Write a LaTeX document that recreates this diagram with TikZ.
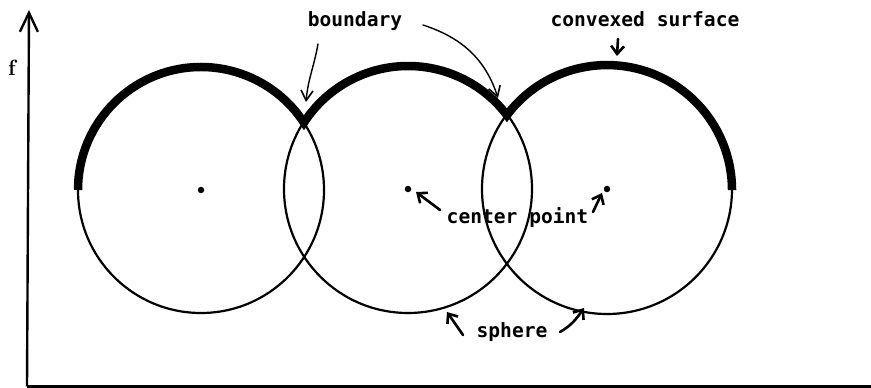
\documentclass[tikz,border=0pt]{standalone}
\usepackage{fontspec}
\setmonofont{DejaVu Sans Mono}
\usetikzlibrary{arrows.meta}
\begin{document}
\begin{tikzpicture}[x=1pt,y=1pt,
  thincirc/.style={line width=2.2pt},
  thickarc/.style={line width=8.5pt,line cap=butt,line join=miter},
  lbl/.style={font=\ttfamily\bfseries\fontsize{19.6}{22}\selectfont,inner sep=0pt,anchor=base},
  ann/.style={line width=2.6pt,line cap=round,-{Straight Barb[length=8pt,width=13pt,line width=2.6pt]}},
  annthin/.style={line width=1.4pt,line cap=round,-{Straight Barb[length=10pt,width=12pt,line width=1.6pt]}},
  axis/.style={line width=2.4pt},
  dot/.style={circle,fill=black,inner sep=0pt,minimum size=6.5pt}
]
\useasboundingbox (0,0) rectangle (871,388);
% centers
\coordinate (c1) at (201,198);
\coordinate (c2) at (408,199);
\coordinate (c3) at (607,199);
% axes
\coordinate (o) at (27,1.5);
\coordinate (ytop) at (29,378);
\coordinate (xend) at (871,1.5);
\draw[axis,-{Straight Barb[length=19pt,width=18pt,line width=2.4pt]}] (o) -- (ytop);
\draw[axis] (o) -- (xend);
\node[font=\bfseries\fontsize{22}{24}\selectfont,inner sep=0pt,anchor=base] (f) at (12,312) {f};
% thin circles
\draw[thincirc] (c1) circle[radius=123];
\draw[thincirc] (c2) circle[radius=124];
\draw[thincirc] (c3) circle[radius=125];
% thick convex surface
\draw[thickarc] ([shift={(180:123)}]c1) arc[start angle=180,end angle=33.2,radius=123]
  arc[start angle=147.1,end angle=37.1,radius=124]
  arc[start angle=143.2,end angle=0,radius=125];
% center dots
\node[dot] (d1) at (c1) {};
\node[dot] (d2) at (c2) {};
\node[dot] (d3) at (c3) {};
% labels
\node[lbl] (lb) at (355,361) {boundary};
\node[lbl] (lc) at (645,361) {convexed surface};
\node[lbl] (lp) at (517.5,164) {center point};
\node[lbl] (ls) at (512,50) {sphere};
% annotation coordinates
\coordinate (b1s) at (318,344);
\coordinate (b1t) at (306,286);
\coordinate (b2s) at (423,363);
\coordinate (b2t) at (498,290);
\coordinate (cvs) at (618,349);
\coordinate (cvt) at (617,332);
\coordinate (p1s) at (440,178);
\coordinate (p1t) at (416,196);
\coordinate (p2s) at (593,176);
\coordinate (p2t) at (602,195);
\coordinate (s1s) at (463,53);
\coordinate (s1t) at (447,76);
\coordinate (s2s) at (560,56);
\coordinate (s2t) at (584,80);
% annotation arrows
\draw[annthin] (b1s) to[out=-100,in=85] (b1t);
\draw[annthin] (b2s) to[out=-18,in=108] (b2t);
\draw[ann] (cvs) -- (cvt);
\draw[ann] (p1s) -- (p1t);
\draw[ann] (p2s) -- (p2t);
\draw[ann] (s1s) -- (s1t);
\draw[ann] (s2s) to[out=30,in=235] (s2t);
\end{tikzpicture}
\end{document}
